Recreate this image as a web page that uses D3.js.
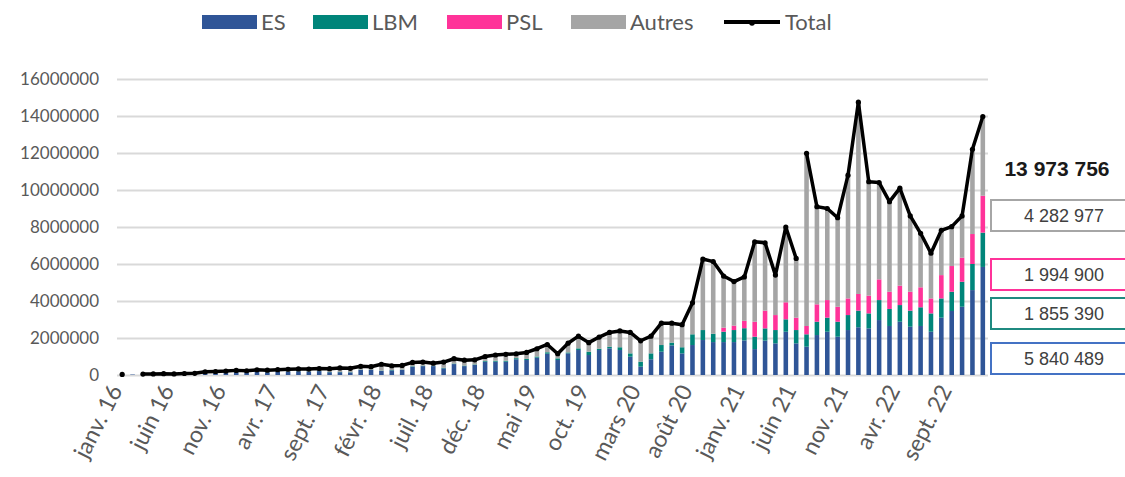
<!DOCTYPE html>
<html>
<head>
<meta charset="utf-8">
<script src="https://cdn.jsdelivr.net/npm/d3@7"></script>
<style>
  body { margin: 0; background: #fff; }
  svg { display: block; }
</style>
</head>
<body>
<svg width="1125" height="477"></svg>
<script>
// mois / années pour les catégories
var monthNames = ["janv.", "févr.", "mars", "avr.", "mai", "juin", "juil.", "août", "sept.", "oct.", "nov.", "déc."];
var years = ["16", "17", "18", "19", "20", "21", "22"];
var categories = [];
years.forEach(function(y){
    monthNames.forEach(function(m){ categories.push(m + " " + y); });
});

var esValues = [20000, 25000, 35000, 40000, 45000, 40000, 50000, 60000, 110000, 120000,
    130000, 150000, 140000, 170000, 150000, 180000, 190000, 200000, 190000, 210000,
    150000, 150000, 140000, 270000, 270000, 220000, 250000, 270000, 450000, 480000,
    480000, 360000, 590000, 480000, 540000, 720000, 720000, 720000, 850000, 810000,
    940000, 1150000, 810000, 1170000, 1350000, 1080000, 1350000, 1440000, 1350000, 990000,
    450000, 850000, 1260000, 1600000, 1170000, 1620000, 1890000, 1780000, 1780000, 1780000,
    1870000, 1400000, 1860000, 1710000, 2340000, 1710000, 1530000, 2160000, 2340000, 2070000,
    2430000, 2580000, 2520000, 2970000, 2650000, 2880000, 2610000, 2650000, 2340000, 3100000,
    3460000, 3690000, 4590000, 5840489];

var lbmValues = [0, 0, 0, 0, 0, 0, 0, 0, 0, 5000,
    5000, 8000, 8000, 10000, 10000, 10000, 12000, 12000, 12000, 15000,
    15000, 15000, 15000, 20000, 20000, 20000, 20000, 20000, 25000, 25000,
    25000, 30000, 30000, 30000, 30000, 40000, 50000, 50000, 60000, 60000,
    60000, 80000, 90000, 50000, 90000, 180000, 70000, 90000, 150000, 180000,
    270000, 320000, 360000, 150000, 330000, 580000, 540000, 450000, 560000, 650000,
    660000, 670000, 660000, 720000, 670000, 720000, 670000, 720000, 760000, 810000,
    810000, 900000, 810000, 1080000, 920000, 900000, 870000, 1010000, 990000, 1040000,
    1040000, 1350000, 1410000, 1855390];

var pslValues = [0, 0, 0, 0, 0, 0, 0, 0, 0, 0,
    0, 0, 0, 0, 0, 0, 0, 0, 0, 0,
    0, 0, 0, 0, 0, 0, 0, 0, 0, 0,
    0, 0, 0, 0, 0, 0, 0, 0, 0, 0,
    0, 0, 0, 0, 0, 0, 0, 0, 0, 0,
    0, 0, 0, 0, 0, 0, 0, 0, 220000, 240000,
    400000, 810000, 960000, 810000, 920000, 670000, 450000, 940000, 950000, 810000,
    900000, 900000, 960000, 1120000, 930000, 1050000, 1020000, 1080000, 810000, 1260000,
    1390000, 1300000, 1620000, 1994900];

var autresValues = [10000, 0, 15000, 20000, 25000, 20000, 30000, 30000, 60000, 65000,
    75000, 92000, 82000, 100000, 100000, 100000, 108000, 118000, 118000, 125000,
    175000, 215000, 205000, 180000, 160000, 340000, 230000, 230000, 205000, 195000,
    135000, 310000, 260000, 290000, 250000, 240000, 310000, 350000, 240000, 350000,
    420000, 420000, 250000, 500000, 660000, 490000, 630000, 770000, 880000, 1130000,
    1130000, 930000, 1180000, 1050000, 1220000, 1700000, 3840000, 3900000, 2790000, 2380000,
    2370000, 4320000, 3670000, 2160000, 4070000, 3200000, 9330000, 5280000, 4950000, 4810000,
    6660000, 10370000, 6160000, 5230000, 4870000, 5270000, 4100000, 2920000, 2440000, 2420000,
    2130000, 2260000, 4580000, 4282977];

// null = pas de point
var totalValues = [30000, null, 50000, 60000, 70000, 60000, 80000, 90000, 170000, 190000,
    210000, 250000, 230000, 280000, 260000, 290000, 310000, 330000, 320000, 350000,
    340000, 380000, 360000, 470000, 450000, 580000, 500000, 520000, 680000, 700000,
    640000, 700000, 880000, 800000, 820000, 1000000, 1080000, 1120000, 1150000, 1220000,
    1420000, 1650000, 1150000, 1720000, 2100000, 1750000, 2050000, 2300000, 2380000, 2300000,
    1850000, 2100000, 2800000, 2800000, 2720000, 3900000, 6270000, 6130000, 5350000, 5050000,
    5300000, 7200000, 7150000, 5400000, 8000000, 6300000, 11980000, 9100000, 9000000, 8500000,
    10800000, 14750000, 10450000, 10400000, 9370000, 10100000, 8600000, 7660000, 6580000, 7820000,
    8020000, 8600000, 12200000, 13973756];

// la courbe Total repart de zéro à ce mois
var totalBreaks = ["juil. 21"];

var seriesNames = ["ES", "LBM", "PSL", "Autres"];
var seriesColors = ["#2f5597", "#00857a", "#ff3399", "#a5a5a5"];
var boxColors = ["#4472c4", "#1f8a80", "#ff3399", "#a6a6a6"];
var yTicks = [0, 2000000, 4000000, 6000000, 8000000, 10000000, 12000000, 14000000, 16000000];

var svg = d3.select("svg");
var plotL = 117, plotR = 988, plotB = 375, plotT = 79;

var rows = categories.map(function(c, i){
    return { cat: c, ES: esValues[i], LBM: lbmValues[i], PSL: pslValues[i], Autres: autresValues[i], total: totalValues[i] };
});

var x = d3.scaleBand()
    .domain(categories)
    .range([plotL, plotR])
    .paddingInner(0.56)
    .paddingOuter(0.28);

var y = d3.scaleLinear()
    .domain([0, 16000000])
    .range([plotB, plotT]);

// grille
var grid = svg.append("g")
    .attr("transform", "translate(" + plotL + ",0)")
    .call(d3.axisLeft(y).tickValues(yTicks).tickSize(-(plotR - plotL)).tickFormat(""));
grid.select(".domain").remove();
grid.selectAll("line").attr("stroke", "#d9d9d9").attr("stroke-width", 2);

// axe y
var yAxis = svg.append("g")
    .attr("transform", "translate(99,0)")
    .call(d3.axisLeft(y).tickValues(yTicks).tickSize(0).tickPadding(0).tickFormat(function(d){ return d; }));
yAxis.select(".domain").remove();
yAxis.selectAll("text")
    .attr("fill", "#595959")
    .style("font-family", "Lato")
    .style("font-size", "17px");

// barres empilées
var stack = d3.stack().keys(seriesNames)(rows);

svg.append("g")
    .selectAll("g")
    .data(stack)
    .enter()
    .append("g")
    .attr("fill", function(d, i){ return seriesColors[i]; })
    .selectAll("rect")
    .data(function(d){ return d; })
    .enter()
    .append("rect")
    .attr("x", function(d){ return x(d.data.cat); })
    .attr("width", x.bandwidth())
    .attr("y", function(d){ return y(d[1]); })
    .attr("height", function(d){ return y(d[0]) - y(d[1]); });

// axe x
var xAxis = svg.append("g")
    .attr("transform", "translate(0," + (plotB + 4) + ")")
    .call(d3.axisBottom(x)
        .tickValues(categories.filter(function(d, i){ return i % 5 === 0; }))
        .tickSize(0));
xAxis.select(".domain").remove();
xAxis.selectAll("text")
    .attr("fill", "#595959")
    .style("font-family", "Lato")
    .style("font-size", "23px")
    .attr("text-anchor", "end")
    .attr("dy", "0.35em")
    .attr("transform", "translate(-9,6) rotate(-63)");

// courbe Total
var segId = 0;
var linePts = rows.map(function(d){
    if (totalBreaks.indexOf(d.cat) >= 0) segId++;
    return { cat: d.cat, v: d.total, seg: segId };
});
var segments = d3.groups(linePts, function(d){ return d.seg; });

var line = d3.line()
    .defined(function(d){ return d.v !== null; })
    .x(function(d){ return x(d.cat) + x.bandwidth() / 2; })
    .y(function(d){ return y(d.v); });

svg.append("g")
    .selectAll("path")
    .data(segments)
    .enter()
    .append("path")
    .attr("fill", "none")
    .attr("stroke", "#000")
    .attr("stroke-width", 3.5)
    .attr("stroke-linejoin", "round")
    .attr("d", function(d){ return line(d[1]); });

svg.append("g")
    .selectAll("circle")
    .data(linePts.filter(function(d){ return d.v !== null; }))
    .enter()
    .append("circle")
    .attr("cx", function(d){ return x(d.cat) + x.bandwidth() / 2; })
    .attr("cy", function(d){ return y(d.v); })
    .attr("r", 2.6)
    .attr("fill", "#000");

// étiquettes de droite
var fmt = function(v){ return d3.format(",")(v).replace(/,/g, " "); };
var last = rows[rows.length - 1];

svg.append("text")
    .attr("x", 1057)
    .attr("y", 168)
    .attr("text-anchor", "middle")
    .attr("dy", "0.36em")
    .style("font-family", "Liberation Sans, Arial")
    .style("font-weight", "bold")
    .style("font-size", "21px")
    .attr("fill", "#1a1a1a")
    .text(fmt(last.total));

var boxY = { Autres: 200, PSL: 259, LBM: 298, ES: 343 };
var boxes = svg.append("g")
    .selectAll("g")
    .data(seriesNames)
    .enter()
    .append("g");
boxes.append("rect")
    .attr("x", 991)
    .attr("y", function(d){ return boxY[d]; })
    .attr("width", 150)
    .attr("height", 31)
    .attr("fill", "#fff")
    .attr("stroke", function(d, i){ return boxColors[i]; })
    .attr("stroke-width", 2);
boxes.append("text")
    .attr("x", 1064)
    .attr("y", function(d){ return boxY[d] + 16; })
    .attr("dy", "0.36em")
    .attr("text-anchor", "middle")
    .style("font-family", "Liberation Sans, Arial")
    .style("font-size", "18px")
    .attr("fill", "#404040")
    .text(function(d){ return fmt(last[d]); });

// légende
var legendX = [202, 313, 447, 571];
var leg = svg.append("g");
seriesNames.forEach(function(s, i){
    leg.append("rect")
        .attr("x", legendX[i]).attr("y", 15)
        .attr("width", 55).attr("height", 14)
        .attr("fill", seriesColors[i]);
    leg.append("text")
        .attr("x", legendX[i] + 59).attr("y", 22)
        .attr("dy", "0.36em")
        .style("font-family", "Lato")
        .style("font-size", "22px")
        .attr("fill", "#595959")
        .text(s);
});
leg.append("line")
    .attr("x1", 724).attr("x2", 780).attr("y1", 22).attr("y2", 22)
    .attr("stroke", "#000").attr("stroke-width", 4);
leg.append("circle").attr("cx", 752).attr("cy", 23).attr("r", 2.8).attr("fill", "#000");
leg.append("text")
    .attr("x", 785).attr("y", 22)
    .attr("dy", "0.36em")
    .style("font-family", "Lato")
    .style("font-size", "22px")
    .attr("fill", "#595959")
    .text("Total");
</script>
</body>
</html>
